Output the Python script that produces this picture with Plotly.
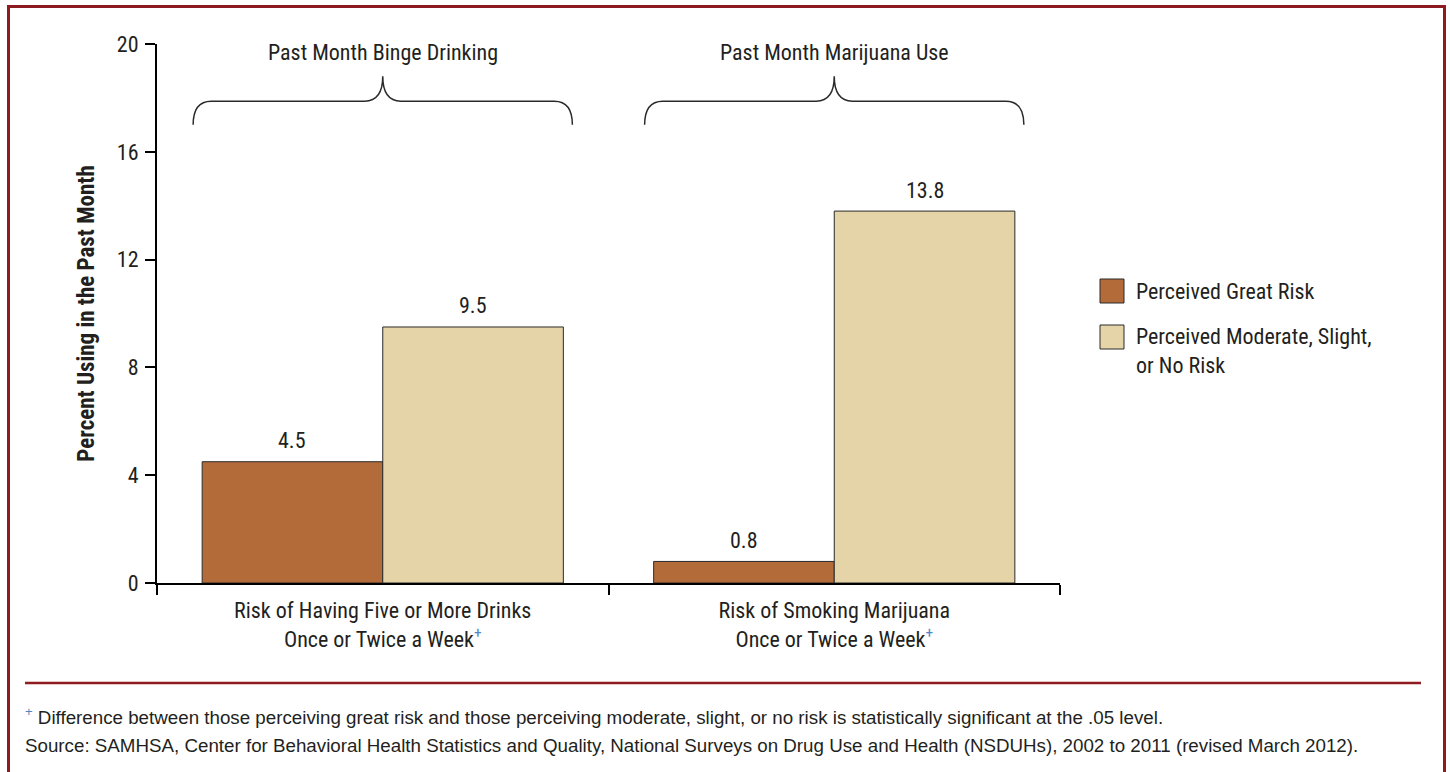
import plotly.graph_objects as go

categories = ["Risk of Having Five or More Drinks<br>Once or Twice a Week<sup><span style='color:#4F86C6'>+</span></sup>",
              "Risk of Smoking Marijuana<br>Once or Twice a Week<sup><span style='color:#4F86C6'>+</span></sup>"]
group_titles = ["Past Month Binge Drinking", "Past Month Marijuana Use"]
series_names = ["Perceived Great Risk", "Perceived Moderate, Slight,<br>or No Risk"]
great_risk = [4.5, 0.8]
moderate_risk = [9.5, 13.8]
y_ticks = [0, 4, 8, 12, 16, 20]
footnote = ("<span style='color:#4F86C6'><sup>+</sup></span> Difference between those perceiving great risk and those "
            "perceiving moderate, slight, or no risk is statistically significant at the .05 level.")
source = ("Source: SAMHSA, Center for Behavioral Health Statistics and Quality, National Surveys on Drug Use "
          "and Health (NSDUHs), 2002 to 2011 (revised March 2012).")

colors = ["#B36B3A", "#E5D4A8"]
FONT = "Liberation Sans Narrow, Arial Narrow, Roboto Condensed, Liberation Sans, Arial, sans-serif"
FS = 22
TXT = "#231F20"
RED = "#8E1B1F"

xpos = list(range(len(categories)))
series = [(great_risk, series_names[0], colors[0], -0.2), (moderate_risk, series_names[1], colors[1], 0.2)]

fig = go.Figure()
for vals, name, col, off in series:
    fig.add_trace(go.Bar(
        x=xpos, y=vals, name=name, marker=dict(color=col, line=dict(color="#2A2A2A", width=1)),
        showlegend=False, hoverinfo="x+y",
    ))
    for xi, v in zip(xpos, vals):
        fig.add_annotation(x=xi + off, y=v, xref="x", yref="y", text=f"{v:.1f}", showarrow=False,
                           yanchor="middle", yshift=21, font=dict(family=FONT, size=FS, color=TXT))

fig.update_layout(
    width=1450, height=772, barmode="group", bargap=0.2, bargroupgap=0,
    plot_bgcolor="white", paper_bgcolor="white",
    margin=dict(l=157, r=390, t=44, b=189),
    font=dict(family=FONT, size=FS, color=TXT),
    xaxis=dict(range=[-0.5, 1.5], tickvals=xpos, ticktext=categories, ticks="",
               showline=True, linecolor="black", linewidth=2, showgrid=False, zeroline=False,
               ticklabelstandoff=7,
               tickfont=dict(family=FONT, size=FS, color=TXT),
               minor=dict(tick0=0.5, dtick=1, ticks="outside", ticklen=10, tickwidth=2, tickcolor="black")),
    yaxis=dict(range=[0, 20], tickvals=y_ticks, ticks="outside", ticklen=10, tickwidth=2, tickcolor="black",
               showline=True, linecolor="black", linewidth=2, showgrid=False, zeroline=False,
               ticklabelstandoff=2,
               tickfont=dict(family=FONT, size=FS, color=TXT),
               title=dict(text="<b>Percent Using in the Past Month</b>", standoff=16,
                          font=dict(family=FONT, size=23, color=TXT))),
)

# braces and group titles
hw, dx, yb, yh, ytop = 0.42, 0.04, 17.0, 17.88, 18.8
for i, t in enumerate(group_titles):
    x0, xm, x1 = xpos[i] - hw, xpos[i], xpos[i] + hw
    path = (f"M{x0},{yb} Q{x0},{yh} {x0+dx},{yh} L{xm-dx},{yh} Q{xm},{yh} {xm},{ytop} "
            f"Q{xm},{yh} {xm+dx},{yh} L{x1-dx},{yh} Q{x1},{yh} {x1},{yb}")
    fig.add_shape(type="path", path=path, xref="x", yref="y", line=dict(color="#2A2A2A", width=1.5))
    fig.add_annotation(x=xm, y=19.67, xref="x", yref="y", text=t, showarrow=False,
                       font=dict(family=FONT, size=FS, color=TXT))

# pixel -> paper coordinates
def px2paper_x(p): return (p - 157) / 903
def px2paper_y(p): return (583 - p) / 539

# custom legend
legend_items = [(series_names[0], colors[0], 291, 291), (series_names[1], colors[1], 337, 351)]
for name, col, ysw, ytxt in legend_items:
    fig.add_shape(type="rect", xref="paper", yref="paper",
                  x0=px2paper_x(1100), x1=px2paper_x(1124), y0=px2paper_y(ysw + 12), y1=px2paper_y(ysw - 12),
                  fillcolor=col, line=dict(color="#2A2A2A", width=1))
    fig.add_annotation(xref="paper", yref="paper", x=px2paper_x(1134), y=px2paper_y(ytxt), text=name,
                       showarrow=False, xanchor="left", yanchor="middle", align="left",
                       font=dict(family=FONT, size=FS, color=TXT))

# frame border
fig.add_shape(type="rect", xref="paper", yref="paper",
              x0=px2paper_x(8.5), x1=px2paper_x(1444.5), y0=px2paper_y(800), y1=px2paper_y(6.5),
              line=dict(color=RED, width=3), fillcolor="rgba(0,0,0,0)", layer="above")
# separator line
fig.add_shape(type="line", xref="paper", yref="paper",
              x0=px2paper_x(25), x1=px2paper_x(1421), y0=px2paper_y(683), y1=px2paper_y(683),
              line=dict(color=RED, width=2.5))

FOOT = "Liberation Sans, Arial, Helvetica, sans-serif"
for txt, yp in [(footnote, 716), (source, 745)]:
    fig.add_annotation(xref="paper", yref="paper", x=px2paper_x(23), y=px2paper_y(yp), text=txt,
                       showarrow=False, xanchor="left", yanchor="middle", align="left",
                       font=dict(family=FOOT, size=18.75, color=TXT))

fig.write_html("out.html", config={"displayModeBar": False},
               post_script="document.body.style.margin='0';document.body.style.overflow='hidden';")
